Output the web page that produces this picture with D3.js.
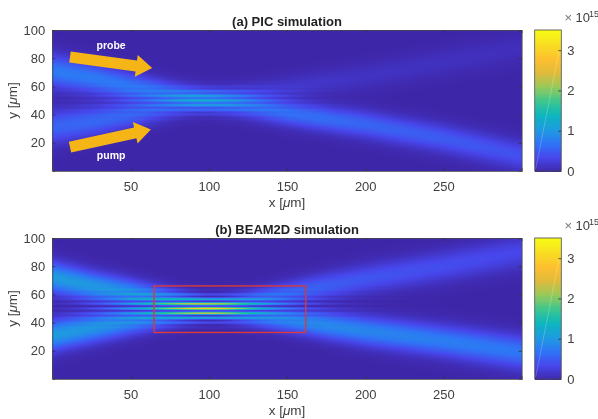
<!DOCTYPE html>
<html>
<head>
<meta charset="utf-8">
<script src="https://cdn.jsdelivr.net/npm/d3@7"></script>
<style>
    html, body { margin: 0; padding: 0; background: #fff; }
    #chart { position: relative; width: 598px; height: 419px; overflow: hidden; filter: blur(0.45px); }
    canvas, svg { position: absolute; left: 0; top: 0; }
    text { font-family: "Liberation Sans", Arial, sans-serif; fill: #404040; }
</style>
</head>
<body>
<div id="chart"></div>
<script>
const width = 598;
const height = 419;

const stationX = [0, 25, 50, 75, 100, 125, 150, 175, 200, 250, 300];

// (a) PIC simulation: beam centre [um], peak intensity [1e15], width [um]
const picProbeY = [71, 66, 60, 55, 50, 46, 41, 37, 33, 23, 11];
const picPumpY = [31, 35, 40, 45, 50, 54, 58, 63, 67, 77, 87];
const picProbePeak = [0.75, 0.75, 0.72, 0.66, 0.62, 0.62, 0.66, 0.64, 0.58, 0.5, 0.42];
const picPumpPeak = [0.58, 0.6, 0.58, 0.46, 0.36, 0.27, 0.2, 0.16, 0.14, 0.12, 0.1];
const picSigma = [8, 7.4, 6.6, 5.8, 5.6, 5.8, 6, 6.2, 6.5, 6.8, 7];
const picContrast = [0.3, 0.3, 0.3, 0.32, 0.32, 0.32, 0.3, 0.25, 0.2, 0.2, 0.2];

// (b) BEAM2D simulation
const beamProbeY = [72, 66, 61, 55.5, 50, 45.5, 42, 38, 34, 27, 19];
const beamPumpY = [31, 36, 41, 45.5, 50, 55, 60.5, 66, 71, 80, 90];
const beamProbePeak = [1.05, 1.02, 0.96, 0.86, 0.82, 0.82, 0.85, 0.88, 0.85, 0.78, 0.72];
const beamPumpPeak = [1.05, 1, 0.9, 0.8, 0.75, 0.7, 0.6, 0.52, 0.46, 0.4, 0.34];
const beamSigma = [7.5, 7, 6.5, 5.8, 5, 5, 5.8, 6.5, 7, 7.5, 8];
const beamContrast = [0.85, 0.85, 0.85, 0.85, 0.85, 0.85, 0.85, 0.85, 0.85, 0.85, 0.85];

const fringePeriod = 3.4;   // um, measured across the crossing region

const xTicks = [50, 100, 150, 200, 250];
const yTicks = [20, 40, 60, 80, 100];
const colorTicks = [0, 1, 2, 3];
const colorMax = 3.5;
const parula = ["#3e26a8", "#4746eb", "#2f74f6", "#1e9bdf", "#0cb5bf", "#3bc68f",
    "#96ca5b", "#e0ba3a", "#fdc030", "#f8dd22", "#f9fb15"];

const redBox = { x0: 65, x1: 162, y0: 33, y1: 66 };
const arrows = [
    { name: "probe", tail: [11.3, 80.8], tip: [63.8, 73], labelX: 37.6, labelY: 89 },
    { name: "pump", tail: [11.3, 17], tip: [63, 29.5], labelX: 37.6, labelY: 11 }
];

const x = d3.scaleLinear().domain([0, 300]).range([52.3, 521.7]);
const color = d3.scaleLinear()
    .domain(parula.map((c, i) => i / (parula.length - 1) * colorMax))
    .range(parula)
    .clamp(true);

const chart = d3.select("#chart");
const svg = chart.append("svg").attr("width", width).attr("height", height);

function station(values) {
    return d3.scaleLinear().domain(stationX).range(values);
}

function drawField(y, s) {
    const [left, right] = x.range().map(Math.round);
    const [bottom, top] = y.range().map(Math.round);
    const canvas = chart.insert("canvas", "svg")
        .attr("width", right - left).attr("height", bottom - top)
        .style("left", left + "px").style("top", top + "px");
    const ctx = canvas.node().getContext("2d");

    const probeY = station(s.probeY), pumpY = station(s.pumpY);
    const probePeak = station(s.probePeak), pumpPeak = station(s.pumpPeak);
    const sigma = station(s.sigma), contrast = station(s.contrast);

    for (let i = left; i < right; i++) {
        const ux = x.invert(i + 0.5);
        for (let j = top; j < bottom; j++) {
            const uy = y.invert(j + 0.5);
            const w = 2 * sigma(ux) ** 2;
            const a = probePeak(ux) * Math.exp(-((uy - probeY(ux)) ** 2) / w);
            const b = pumpPeak(ux) * Math.exp(-((uy - pumpY(ux)) ** 2) / w);
            const v = a + b + 2 * contrast(ux) * Math.sqrt(a * b) * Math.cos(2 * Math.PI * (uy - 50) / fringePeriod);
            ctx.fillStyle = color(v);
            ctx.fillRect(i - left, j - top, 1, 1);
        }
    }
}

function drawAxes(g, y) {
    const xAxis = g.append("g").attr("transform", `translate(0,${y.range()[0]})`)
        .call(d3.axisBottom(x).tickValues(xTicks).tickSize(-3).tickPadding(11));
    const xTop = g.append("g").attr("transform", `translate(0,${y.range()[1]})`)
        .call(d3.axisTop(x).tickValues(xTicks).tickSize(-3).tickFormat(""));
    const yAxis = g.append("g").attr("transform", `translate(${x.range()[0]},0)`)
        .call(d3.axisLeft(y).tickValues(yTicks).tickSize(-3).tickPadding(7));
    const yRight = g.append("g").attr("transform", `translate(${x.range()[1]},0)`)
        .call(d3.axisRight(y).tickValues(yTicks).tickSize(-3).tickFormat(""));

    [xAxis, xTop, yAxis, yRight].forEach(a => {
        a.selectAll("path").attr("stroke", "#4a4a4a").attr("stroke-width", 0.8);
        a.selectAll("line").attr("stroke", "#333").attr("stroke-width", 0.8);
        a.selectAll("text").attr("font-size", 13).style("font-family", "Liberation Sans").attr("fill", "#404040");
    });
}

function drawColorbar(g, y) {
    const barX0 = 534.7, barX1 = 561.3;
    const c = d3.scaleLinear().domain([0, colorMax]).range(y.range());
    const levels = d3.range(64).map(i => i / 64 * colorMax);

    g.append("g").attr("shape-rendering", "crispEdges").selectAll("rect")
        .data(levels)
        .enter().append("rect")
        .attr("x", barX0)
        .attr("width", barX1 - barX0)
        .attr("y", d => c(d + colorMax / 64))
        .attr("height", d => c(d) - c(d + colorMax / 64) + 1)
        .attr("fill", d => color(d + colorMax / 128));

    // faint white streak that crosses the bar in the original
    g.append("line")
        .attr("x1", barX0 + 1).attr("y1", c(0.05))
        .attr("x2", barX1 - 2).attr("y2", c(3))
        .attr("stroke", "#fff").attr("stroke-opacity", 0.3).attr("stroke-width", 0.7);

    const bar = g.append("g").attr("transform", `translate(${barX1},0)`)
        .call(d3.axisRight(c).tickValues(colorTicks).tickFormat(d3.format("d")).tickSize(-3).tickPadding(6));
    bar.select("path").attr("stroke", "none");
    bar.selectAll("line").attr("stroke", "#333").attr("stroke-width", 0.8);
    bar.selectAll("text").attr("font-size", 13).style("font-family", "Liberation Sans").attr("fill", "#404040");

    g.append("rect")
        .attr("x", barX0).attr("y", y.range()[1])
        .attr("width", barX1 - barX0).attr("height", y.range()[0] - y.range()[1])
        .attr("fill", "none").attr("stroke", "#4a4a4a").attr("stroke-width", 0.8);

    const top = y.range()[1];
    g.append("text").attr("x", 564.5).attr("y", top - 8).attr("font-size", 13).style("fill", "#777").text("\u00d7");
    g.append("text").attr("x", 575.5).attr("y", top - 8).attr("font-size", 13).text("10");
    g.append("text").attr("x", 589).attr("y", top - 13).attr("font-size", 9).text("15");
}

function drawLabels(g, y, title) {
    const top = y.range()[1], bottom = y.range()[0];
    g.append("text")
        .attr("x", d3.mean(x.range())).attr("y", top - 4)
        .attr("text-anchor", "middle").attr("font-size", 13).attr("font-weight", "bold")
        .style("fill", "#222").text(title);

    const xLabel = g.append("text")
        .attr("x", d3.mean(x.range())).attr("y", bottom + 36)
        .attr("text-anchor", "middle").attr("font-size", 13.5);
    xLabel.append("tspan").text("x [");
    xLabel.append("tspan").attr("font-style", "italic").text("\u03bc");
    xLabel.append("tspan").text("m]");

    const yLabel = g.append("text")
        .attr("transform", `translate(17,${(top + bottom) / 2}) rotate(-90)`)
        .attr("text-anchor", "middle").attr("font-size", 13.5);
    yLabel.append("tspan").text("y [");
    yLabel.append("tspan").attr("font-style", "italic").text("\u03bc");
    yLabel.append("tspan").text("m]");
}

function drawArrows(g, y) {
    arrows.forEach(a => {
        const x0 = x(a.tail[0]), y0 = y(a.tail[1]);
        const x1 = x(a.tip[0]), y1 = y(a.tip[1]);
        const len = Math.hypot(x1 - x0, y1 - y0);
        const ux = (x1 - x0) / len, uy = (y1 - y0) / len;
        const headLen = 16, headHalf = 11, shaftHalf = 5.5;
        const pt = (along, across) => [x0 + ux * along - uy * across, y0 + uy * along + ux * across];
        const shape = [
            pt(0, -shaftHalf), pt(len - headLen, -shaftHalf), pt(len - headLen, -headHalf),
            pt(len, 0),
            pt(len - headLen, headHalf), pt(len - headLen, shaftHalf), pt(0, shaftHalf)
        ];
        g.append("path").attr("d", d3.line()(shape) + "Z").attr("fill", "#f5b516");
        g.append("text")
            .attr("x", x(a.labelX)).attr("y", y(a.labelY))
            .attr("dy", "0.35em").attr("text-anchor", "middle")
            .attr("font-size", 10.5).attr("font-weight", "bold")
            .style("fill", "#fff").text(a.name);
    });
}

// panel (a)
const yA = d3.scaleLinear().domain([0, 100]).range([171, 30]);
drawField(yA, { probeY: picProbeY, pumpY: picPumpY, probePeak: picProbePeak, pumpPeak: picPumpPeak, sigma: picSigma, contrast: picContrast });
const gA = svg.append("g");
drawAxes(gA, yA);
drawColorbar(gA, yA);
drawLabels(gA, yA, "(a) PIC simulation");
drawArrows(gA, yA);

// panel (b)
const yB = d3.scaleLinear().domain([0, 100]).range([379, 238]);
drawField(yB, { probeY: beamProbeY, pumpY: beamPumpY, probePeak: beamProbePeak, pumpPeak: beamPumpPeak, sigma: beamSigma, contrast: beamContrast });
const gB = svg.append("g");
drawAxes(gB, yB);
drawColorbar(gB, yB);
drawLabels(gB, yB, "(b) BEAM2D simulation");

gB.append("rect")
    .attr("x", x(redBox.x0)).attr("y", yB(redBox.y1))
    .attr("width", x(redBox.x1) - x(redBox.x0)).attr("height", yB(redBox.y0) - yB(redBox.y1))
    .attr("fill", "none").attr("stroke", "#d93a3a").attr("stroke-width", 1.4);
</script>
</body>
</html>
